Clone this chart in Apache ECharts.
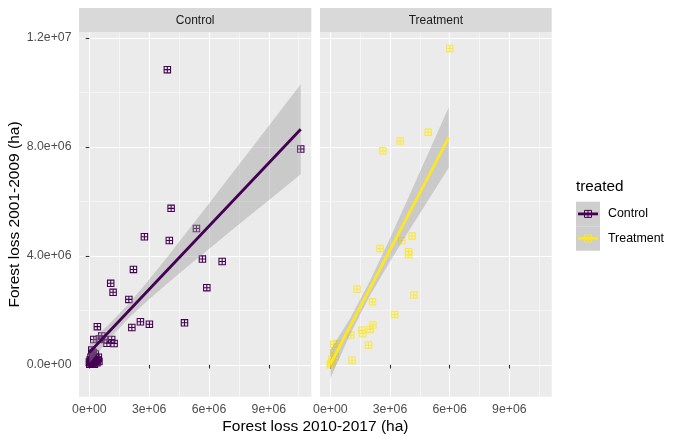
<!DOCTYPE html>
<html><head><meta charset="utf-8">
<script src="https://cdn.jsdelivr.net/npm/echarts@6/dist/echarts.min.js"></script>
<style>html,body{margin:0;padding:0;background:#fff}#c{width:680px;height:443px}</style>
</head><body><div id="c"></div>
<script>
// ---------- data (values in hectares) ----------
const panels = ['Control', 'Treatment'];
const xTicks = [0, 3e6, 6e6, 9e6];
const xTickLabels = ['0e+00', '3e+06', '6e+06', '9e+06'];
const xMinor = [1.5e6, 4.5e6, 7.5e6, 10.5e6];
const yTicks = [0, 4e6, 8e6, 12e6];
const yTickLabels = ['0.0e+00', '4.0e+06', '8.0e+06', '1.2e+07'];
const yMinor = [2e6, 6e6, 10e6];

const controlX = [10.60e6, 4.10e6, 5.37e6, 2.76e6, 4.01e6, 5.67e6, 6.66e6, 2.21e6, 1.07e6, 1.19e6, 5.89e6, 1.98e6,
  2.56e6, 2.13e6, 3.01e6, 4.77e6, 0.40e6, 0.22e6, 0.62e6, 0.74e6, 1.12e6, 0.88e6, 1.24e6, 0.50e6, 0.12e6, 3.91e6,
  0.02e6, 0.05e6, 0.10e6, 0.12e6, 0.18e6, 0.22e6, 0.28e6, 0.33e6, 0.38e6, 0.42e6, 0.48e6, 0.08e6, 0.15e6, 0.04e6,
  0.30e6, 0.25e6, 0.00e6, 0.45e6, 0.20e6];
const controlY = [7.92e6, 5.74e6, 5.00e6, 4.70e6, 4.56e6, 3.88e6, 3.79e6, 3.50e6, 2.99e6, 2.66e6, 2.83e6, 2.40e6,
  1.58e6, 1.37e6, 1.49e6, 1.54e6, 1.40e6, 0.93e6, 1.06e6, 0.93e6, 0.93e6, 0.79e6, 0.78e6, 0.95e6, 0.54e6, 10.83e6,
  0.02e6, 0.08e6, 0.03e6, 0.15e6, 0.06e6, 0.20e6, 0.12e6, 0.25e6, 0.08e6, 0.18e6, 0.12e6, 0.28e6, 0.35e6, 0.18e6,
  0.40e6, 0.02e6, 0.10e6, 0.28e6, 0.45e6];

const treatX = [6.00e6, 4.92e6, 3.51e6, 2.64e6, 4.11e6, 3.59e6, 2.50e6, 3.94e6, 3.94e6, 1.34e6, 4.20e6, 2.12e6,
  3.24e6, 2.14e6, 2.00e6, 1.59e6, 1.64e6, 1.92e6, 1.09e6, 1.03e6, 0.17e6, 0.17e6, 0.33e6, 0.02e6, 0.08e6, 0.00e6,
  0.10e6, 0.25e6];
const treatY = [11.61e6, 8.53e6, 8.21e6, 7.85e6, 4.73e6, 4.55e6, 4.27e6, 4.15e6, 4.05e6, 2.77e6, 2.56e6, 2.31e6,
  1.85e6, 1.46e6, 1.30e6, 1.27e6, 1.15e6, 0.72e6, 0.17e6, 1.09e6, 0.75e6, 0.45e6, 0.78e6, 0.05e6, 0.20e6, 0.00e6,
  0.10e6, 0.30e6];

// fitted lines and 95% confidence ribbons
const controlFitX = [0, 10.6e6];
const controlFitY = [0.45e6, 8.644e6];
const controlBandX = [0, 1e6, 2e6, 3e6, 4e6, 5e6, 6e6, 7e6, 8e6, 9e6, 10.6e6];
const controlBandLow = [0.07e6, 0.95e6, 1.74e6, 2.41e6, 3.04e6, 3.65e6, 4.25e6, 4.85e6, 5.45e6, 6.04e6, 6.99e6];
const controlBandHigh = [0.83e6, 1.50e6, 2.26e6, 3.13e6, 4.04e6, 4.98e6, 5.92e6, 6.87e6, 7.82e6, 8.77e6, 10.29e6];

const treatFitX = [0, 5.95e6];
const treatFitY = [0.02e6, 8.338e6];
const treatBandX = [0, 1e6, 2e6, 3e6, 4e6, 5e6, 5.95e6];
const treatBandLow = [-0.50e6, 1.13e6, 2.55e6, 3.79e6, 4.97e6, 6.13e6, 7.23e6];
const treatBandHigh = [0.54e6, 1.71e6, 3.09e6, 4.64e6, 6.26e6, 7.89e6, 9.44e6];

const colors = ['#440154', '#FDE725'];

// ---------- layout ----------
const FONT = '"Liberation Sans", Arial, Helvetica, sans-serif';
const X_MIN = -0.52e6, X_MAX = 11.13e6, Y_MIN = -1.17e6, Y_MAX = 12.2e6;
const gridBox = [{left: 79, top: 32.3, width: 232.3, height: 364.4},
                 {left: 320, top: 32.3, width: 231.7, height: 364.4}];
const SYMBOL = 'path://M0,0H14V14H0Z M2,2V6H6V2Z M8,2V6H12V2Z M2,8V12H6V8Z M8,8V12H12V8Z';
const TICK_FS = 12.3, STRIP_FS = 12, TITLE_FS = 15.5, LEG_TITLE_FS = 15.3, LEG_FS = 12.4;

const chart = echarts.init(document.getElementById('c'), null, {renderer: 'canvas'});

const grids = gridBox.map(g => Object.assign({show: true, backgroundColor: '#EBEBEB', borderWidth: 0}, g));
const xAxes = [], yAxes = [];
gridBox.forEach((g, i) => {
  xAxes.push({gridIndex: i, type: 'value', min: X_MIN, max: X_MAX, position: 'bottom',
    axisLine: {show: false},
    axisTick: {show: true, length: 3.7, lineStyle: {color: '#333333', width: 1.07}, customValues: xTicks},
    axisLabel: {show: true, customValues: xTicks, margin: 7, color: '#4D4D4D', fontSize: TICK_FS, fontFamily: FONT,
      formatter: v => xTickLabels[xTicks.indexOf(v)] ?? ''},
    splitLine: {show: true, lineStyle: {color: '#FFFFFF', width: 1.07}}, z: 1});
  xAxes.push({gridIndex: i, type: 'value', min: X_MIN, max: X_MAX, position: 'top',
    axisLine: {show: false}, axisTick: {show: false, customValues: xMinor}, axisLabel: {show: false, customValues: xMinor},
    splitLine: {show: true, lineStyle: {color: '#FFFFFF', width: 0.53}}, z: 1});
  yAxes.push({gridIndex: i, type: 'value', min: Y_MIN, max: Y_MAX, position: 'left',
    axisLine: {show: false},
    axisTick: {show: i === 0, length: 3.7, lineStyle: {color: '#333333', width: 1.07}, customValues: yTicks},
    axisLabel: {show: i === 0, customValues: yTicks, margin: 7.5, color: '#4D4D4D', fontSize: TICK_FS, fontFamily: FONT,
      formatter: v => yTickLabels[yTicks.indexOf(v)] ?? ''},
    splitLine: {show: true, lineStyle: {color: '#FFFFFF', width: 1.07}}, z: 1});
  yAxes.push({gridIndex: i, type: 'value', min: Y_MIN, max: Y_MAX, position: 'right',
    axisLine: {show: false}, axisTick: {show: false, customValues: yMinor}, axisLabel: {show: false, customValues: yMinor},
    splitLine: {show: true, lineStyle: {color: '#FFFFFF', width: 0.53}}, z: 1});
});

function zip(a, b) { return a.map((v, i) => [v, b[i]]); }
function band(i, xs, lo, hi) {
  return {type: 'custom', xAxisIndex: i * 2, yAxisIndex: i * 2, z: 3, silent: true,
    data: xs.map((x, k) => [x, lo[k], hi[k]]),
    renderItem: (params, api) => {
      if (params.dataIndex !== 0) return null;
      const pts = [];
      for (let k = 0; k < xs.length; k++) pts.push(api.coord([xs[k], hi[k]]));
      for (let k = xs.length - 1; k >= 0; k--) pts.push(api.coord([xs[k], lo[k]]));
      return {type: 'polygon', shape: {points: pts}, style: {fill: 'rgba(153,153,153,0.4)'}};
    }};
}
function pts(i, xs, ys, color, op) {
  return {type: 'scatter', xAxisIndex: i * 2, yAxisIndex: i * 2, z: 2, silent: true,
    symbol: SYMBOL, symbolSize: 7.5, data: zip(xs, ys), itemStyle: {color: color, opacity: op}};
}
function fit(i, xs, ys, color) {
  return {type: 'line', xAxisIndex: i * 2, yAxisIndex: i * 2, z: 4, silent: true, showSymbol: false,
    data: zip(xs, ys), lineStyle: {color: color, width: 2.8}, animation: false};
}

const series = [
  pts(0, controlX, controlY, colors[0], 1), band(0, controlBandX, controlBandLow, controlBandHigh),
  fit(0, controlFitX, controlFitY, colors[0]),
  pts(1, treatX, treatY, colors[1], 0.85), band(1, treatBandX, treatBandLow, treatBandHigh),
  fit(1, treatFitX, treatFitY, colors[1])
];

const graphic = [];
gridBox.forEach((g, i) => {
  graphic.push({type: 'rect', shape: {x: g.left, y: 8, width: g.width, height: 24.3}, style: {fill: '#D9D9D9'}, silent: true});
  graphic.push({type: 'text', x: g.left + g.width / 2, y: 20.3, silent: true,
    style: {text: panels[i], fill: '#1A1A1A', font: STRIP_FS + 'px ' + FONT, align: 'center', verticalAlign: 'middle'}});
});
graphic.push({type: 'text', x: 315.4, y: 426.5, silent: true,
  style: {text: 'Forest loss 2010-2017 (ha)', fill: '#000', font: TITLE_FS + 'px ' + FONT, align: 'center', verticalAlign: 'middle'}});
graphic.push({type: 'text', x: 15, y: 214.5, rotation: Math.PI / 2, silent: true,
  style: {text: 'Forest loss 2001-2009 (ha)', fill: '#000', font: TITLE_FS + 'px ' + FONT, align: 'center', verticalAlign: 'middle'}});
// legend
graphic.push({type: 'text', x: 576, y: 187, silent: true,
  style: {text: 'treated', fill: '#000', font: LEG_TITLE_FS + 'px ' + FONT, align: 'left', verticalAlign: 'middle'}});
panels.forEach((p, i) => {
  const top = 201.7 + i * 24.5, cy = top + 12.2;
  graphic.push({type: 'rect', shape: {x: 576, y: top, width: 24, height: 24.5}, style: {fill: '#F2F2F2'}, silent: true});
  graphic.push({type: 'rect', shape: {x: 576, y: top, width: 24, height: 24.5}, style: {fill: 'rgba(153,153,153,0.4)'}, silent: true});
  graphic.push({type: 'line', shape: {x1: 578, y1: cy, x2: 598, y2: cy}, style: {stroke: colors[i], lineWidth: 2.8}, silent: true});
  graphic.push({type: 'rect', shape: {x: 584.5, y: cy - 3.5, width: 7, height: 7}, style: {fill: null, stroke: colors[i], lineWidth: 1}, silent: true});
  graphic.push({type: 'line', shape: {x1: 588, y1: cy - 3.5, x2: 588, y2: cy + 3.5}, style: {stroke: colors[i], lineWidth: 1}, silent: true});
  graphic.push({type: 'text', x: 608, y: cy, silent: true,
    style: {text: p, fill: '#000', font: LEG_FS + 'px ' + FONT, align: 'left', verticalAlign: 'middle'}});
});

chart.setOption({animation: false, backgroundColor: '#FFFFFF', textStyle: {fontFamily: FONT},
  grid: grids, xAxis: xAxes, yAxis: yAxes, series: series, graphic: graphic});
</script></body></html>
